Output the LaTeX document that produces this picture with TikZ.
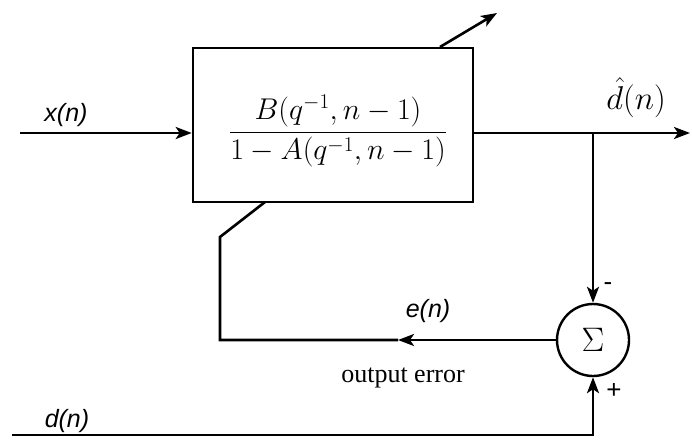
\RequirePackage{fix-cm}
\documentclass[tikz,border=0pt]{standalone}
\usepackage{fontspec}
\newfontfamily\labfont{Liberation Sans}
\newfontfamily\serfont{Liberation Serif}
\usetikzlibrary{arrows.meta}
\begin{document}
\begin{tikzpicture}[x=1pt,y=-1pt,
  wire/.style={line width=2.6pt},
  tip/.style={-{Stealth[length=16pt,width=12pt,inset=4pt]}},
  blockbox/.style={draw,line width=2.6pt,minimum width=280pt,minimum height=154pt,inner sep=0pt},
  sumnode/.style={draw,circle,line width=2.4pt,minimum size=72pt,inner sep=0pt,font=\fontsize{34}{40}\selectfont},
  lab/.style={font=\labfont\itshape\fontsize{25}{30}\selectfont,inner sep=0pt},
  mathlab/.style={font=\fontsize{30}{36}\selectfont,inner sep=0pt},
  sign/.style={font=\labfont\fontsize{26}{30}\selectfont,inner sep=0pt}
]
\useasboundingbox (0,0) rectangle (692,441);
\node[blockbox] (blk) at (333,125) {};
\node[mathlab] (frac) at (338,131) {$\displaystyle\frac{B(q^{-1},n-1)}{1-A(q^{-1},n-1)}$};
\node[sumnode] (sum) at (593,340) {$\Sigma$};

\coordinate (xin) at (20,133);
\coordinate (yout) at (690,133);
\coordinate (br) at (593,133);
\coordinate (mid) at (398,340);
\coordinate (c1) at (220,340);
\coordinate (c2) at (220,237);
\coordinate (c3) at (265,202);
\coordinate (din) at (12,435);
\coordinate (c4) at (593,435);
\coordinate (ad1) at (440,47);
\coordinate (ad2) at (497,13);

% input
\draw[wire,tip] (xin) -- (xin -| blk.west);
% output
\draw[wire,tip] (yout -| blk.east) -- (yout);
% branch to sum
\draw[wire,tip] (br) -- (sum.north);
% error feedback
\draw[wire,tip] (sum.west) -- (mid);
\draw[wire] (mid) -- (c1) -- (c2) -- (c3);
% desired signal
\draw[wire,tip] (din) -- (c4) -- (sum.south);
% adaptation arrow
\draw[wire,tip] (ad1) -- (ad2);

% labels
\node[lab] (lx) at (66,115) {x(n)};
\node[font=\fontsize{33}{40}\selectfont,inner sep=0pt] (ld) at (636,98) {$\hat{d}(n)$};
\node[lab] (le) at (428,311) {e(n)};
\node[font=\serfont\fontsize{26}{30}\selectfont,inner sep=0pt] (lerr) at (403,378) {output error};
\node[lab] (ldn) at (67,421) {d(n)};
\node[sign] (minus) at (608,287) {-};
\node[sign] (plus) at (614,391) {+};
\end{tikzpicture}
\end{document}
